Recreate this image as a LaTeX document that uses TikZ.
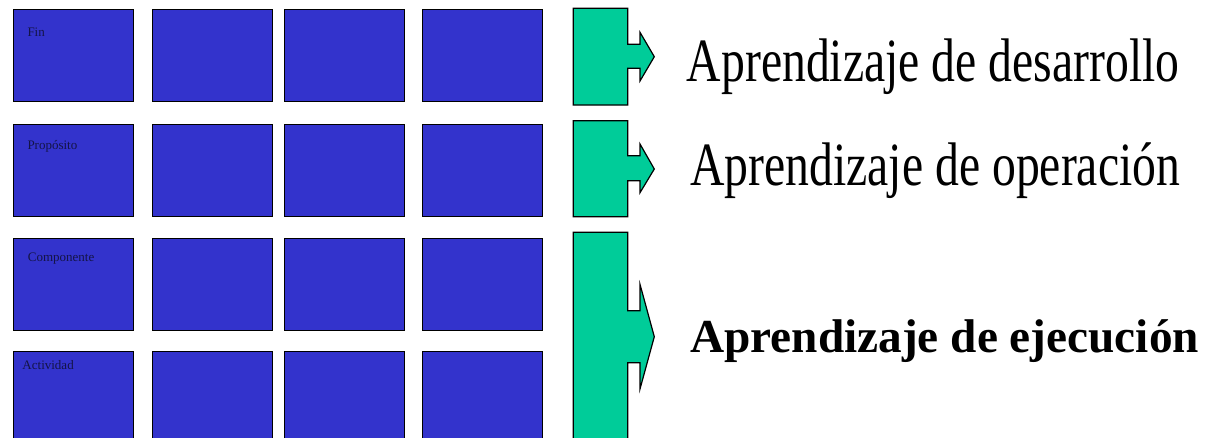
\documentclass[tikz,border=0pt]{standalone}
\usepackage{fontspec}
\setmainfont{Liberation Serif}
\usepackage{xcolor}
\usepackage{tikz}
\usetikzlibrary{positioning}
\definecolor{azulcaja}{RGB}{51,51,204}
\definecolor{verdeflecha}{RGB}{0,204,153}
\definecolor{tintaetiq}{RGB}{20,20,70}
\newcommand{\alto}[1]{\scalebox{1}[1.29]{#1}}

\begin{document}
\begin{tikzpicture}[x=1pt, y=-1pt,
      caja/.style={draw=black, line width=0.9pt, fill=azulcaja,
                   minimum width=120pt, minimum height=92pt, inner sep=0pt,
                   anchor=north west},
      etiq/.style={font=\fontsize{13}{15}\selectfont, text=tintaetiq,
                   inner sep=0pt, anchor=base west},
      flecha/.style={draw=black, line width=1.2pt, fill=verdeflecha,
                     line join=miter},
      rotulo/.style={font=\fontsize{47.7}{54}\selectfont, inner sep=0pt,
                     anchor=base west}]
    \useasboundingbox (0,0) rectangle (1211,437);
    \clip (0,0) rectangle (1211,437);
    % matriz de cajas
    \foreach \f/\y in {1/8.7, 2/123.5, 3/237.5, 4/351} {
      \foreach \c/\x in {1/13.3, 2/152.3, 3/284.3, 4/422.3} {
        \node[caja] (B\f\c) at (\x,\y) {};
      }
    }
    \node[etiq] (Lfin)  at (27.3,36.7)  {Fin};
    \node[etiq] (Lprop) at (27.3,149)   {Propósito};
    \node[etiq] (Lcomp) at (27.7,261.7) {Componente};
    \node[etiq] (Lact)  at (22.3,369)   {Actividad};
    % flechas de bloque
    \draw[flecha] (573.3,8.3) -- (627.7,8.3) -- (627.7,44.3) -- (640,44.3)
      -- (640,32.3) -- (654.3,56.7) -- (640,81) -- (640,68.3)
      -- (627.7,68.3) -- (627.7,105) -- (573.3,105) -- cycle;
    \draw[flecha] (573.3,120.7) -- (627.7,120.7) -- (627.7,155.7) -- (640,155.7)
      -- (640,144) -- (654.3,169) -- (640,192.7) -- (640,180.7)
      -- (627.7,180.7) -- (627.7,216.7) -- (573.3,216.7) -- cycle;
    \draw[flecha] (573.3,232.3) -- (627.7,232.3) -- (627.7,310.7) -- (640,310.7)
      -- (640,284.3) -- (654.3,336.7) -- (640,389) -- (640,362.7)
      -- (627.7,362.7) -- (627.7,450) -- (573.3,450) -- cycle;
    % rotulos
    \node[rotulo] (Rdes) at (686.7,81.7) {\alto{Aprendizaje de desarrollo}};
    \node[rotulo] (Rope) at (690,185)    {\alto{Aprendizaje de operación}};
    \node[rotulo, font=\fontsize{47.3}{54}\selectfont\bfseries]
          (Reje) at (690,352.7) {Aprendizaje de ejecución};
  \end{tikzpicture}
\end{document}
